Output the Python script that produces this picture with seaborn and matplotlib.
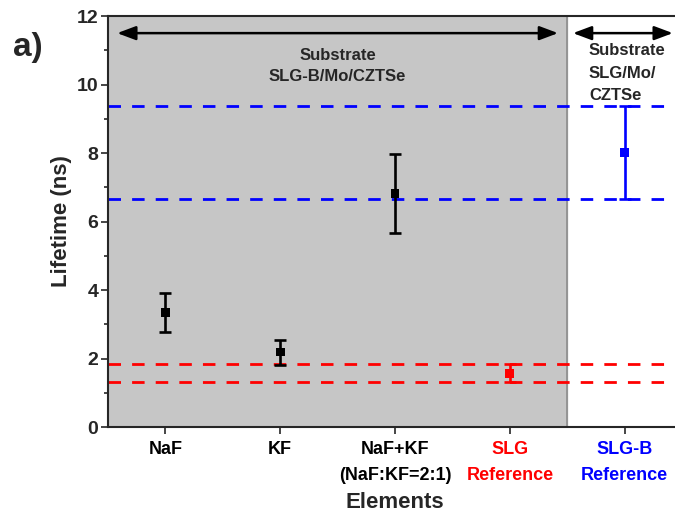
import numpy as np
import pandas as pd
import matplotlib
matplotlib.use("Agg")
import matplotlib.pyplot as plt
import seaborn as sns

# values
categories = ["NaF", "KF", "NaF+KF\n(NaF:KF=2:1)", "SLG\nReference", "SLG-B\nReference"]
lifetime = [3.34, 2.19, 6.82, 1.57, 8.02]
err_low = [2.77, 1.81, 5.66, 1.31, 6.67]
err_high = [3.90, 2.54, 7.96, 1.83, 9.38]
colors = ["black", "black", "black", "red", "blue"]
slg_lines = [1.83, 1.31]
slgb_lines = [9.38, 6.67]

sns.set_style("ticks")
plt.rcParams["font.family"] = ["Liberation Sans", "DejaVu Sans"]
plt.rcParams["font.weight"] = "bold"

df = pd.DataFrame({"pos": np.arange(len(categories)), "lifetime": lifetime,
                   "lo": err_low, "hi": err_high, "color": colors})

fig = plt.figure(figsize=(6.75, 5.13), dpi=100)
ax = fig.add_axes([0.16, 0.1676, 0.8504, 0.8012])

ax.axvspan(-0.5, 3.5, color="#c6c6c6", zorder=0)
ax.axvline(3.5, color="#8c8c8c", lw=1.2, zorder=1)

for y in slg_lines:
    ax.axhline(y, color="red", ls=(0, (4.5, 4)), lw=2, zorder=2)
for y in slgb_lines:
    ax.axhline(y, color="blue", ls=(0, (4.5, 4)), lw=2, zorder=2)

for _, r in df.iterrows():
    ax.errorbar(r["pos"], r["lifetime"],
                yerr=[[r["lifetime"] - r["lo"]], [r["hi"] - r["lifetime"]]],
                fmt="none", ecolor=r["color"], elinewidth=1.9, capsize=4, capthick=1.9, zorder=3)
sns.scatterplot(data=df, x="pos", y="lifetime", hue="color", palette={c: c for c in colors},
                marker="s", s=40, edgecolor="none", legend=False, zorder=4, ax=ax)

ax.set_xlim(-0.5, 4.5)
ax.set_ylim(0, 12)
ax.set_xticks(df["pos"])
ax.set_xticklabels(categories, fontsize=13, fontweight="bold", linespacing=1.7)
for lbl, c in zip(ax.get_xticklabels(), colors):
    lbl.set_color(c)
for t, c in zip(ax.xaxis.get_ticklines()[::2], colors):
    t.set_color(c)
ax.set_yticks(np.arange(0, 13, 2))
ax.set_yticks(np.arange(1, 12, 2), minor=True)
ax.tick_params(axis="y", labelsize=14, width=1.2, length=5, pad=2)
ax.tick_params(axis="y", which="minor", width=1.2, length=3)
ax.tick_params(axis="x", width=1.2, length=5, pad=5)
for lbl in ax.get_yticklabels():
    lbl.set_fontweight("bold")

ax.set_ylabel("Lifetime (ns)", fontsize=16, fontweight="bold", labelpad=3)
ax.set_xlabel("Elements", fontsize=16, fontweight="bold", labelpad=6)

for side in ["left", "bottom", "top"]:
    ax.spines[side].set_linewidth(1.5)
ax.spines["right"].set_visible(False)

arrow = dict(arrowstyle="<|-|>,head_length=0.8,head_width=0.3", color="black", lw=1.8,
             mutation_scale=14, shrinkA=0, shrinkB=0)
ax.annotate("", xy=(-0.42, 11.5), xytext=(3.42, 11.5), arrowprops=arrow)
ax.text(1.5, 11.06, "Substrate\nSLG-B/Mo/CZTSe", ha="center", va="top",
        fontsize=12, fontweight="bold", linespacing=1.5)
ax.annotate("", xy=(3.55, 11.5), xytext=(4.42, 11.5), arrowprops=arrow)
ax.text(3.69, 11.2, "Substrate\nSLG/Mo/\nCZTSe", ha="left", va="top",
        fontsize=12, fontweight="bold", linespacing=1.6)

fig.text(0.02, 0.908, "a)", fontsize=24, fontweight="bold", va="center")

fig.savefig("out.png", dpi=100)
